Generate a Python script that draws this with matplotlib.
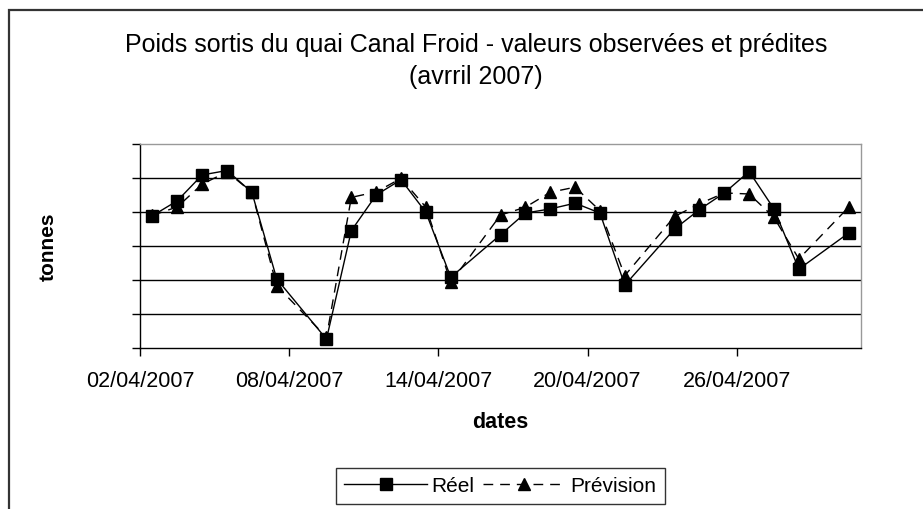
import matplotlib
matplotlib.use("Agg")
import matplotlib.pyplot as plt
from matplotlib.patches import Rectangle
import pandas as pd

plt.rcParams['font.family'] = ['Liberation Sans', 'DejaVu Sans']

dates = ["2007-04-02", "2007-04-03", "2007-04-04", "2007-04-05", "2007-04-06", "2007-04-07",
         "2007-04-09", "2007-04-10", "2007-04-11", "2007-04-12", "2007-04-13", "2007-04-14",
         "2007-04-16", "2007-04-17", "2007-04-18", "2007-04-19", "2007-04-20", "2007-04-21",
         "2007-04-23", "2007-04-24", "2007-04-25", "2007-04-26", "2007-04-27", "2007-04-28",
         "2007-04-30"]
reel = [77.8, 86.6, 101.8, 104.4, 91.6, 40.6, 5.2, 69.0, 90.0, 99.0, 79.8, 41.6,
        66.6, 79.4, 81.8, 85.2, 79.4, 37.0, 70.0, 81.4, 91.2, 103.8, 81.8, 46.4, 67.6]
prevision = [78.0, 83.0, 96.4, 103.6, 91.6, 36.6, 6.4, 88.6, 91.8, 99.8, 82.8, 38.6,
             78.2, 82.8, 91.6, 94.6, 80.8, 42.6, 77.4, 84.8, 91.2, 90.6, 76.8, 52.4, 82.8]
tick_labels = ["02/04/2007", "08/04/2007", "14/04/2007", "20/04/2007", "26/04/2007"]
y_levels = [0, 20, 40, 60, 80, 100, 120]

x = pd.to_datetime(dates)
half = pd.Timedelta(hours=12)

fig = plt.figure(figsize=(9.23, 5.10), dpi=100)
ax = fig.add_axes([140/923, 1-349/510, (861-140)/923, (349-145)/510])

ax.plot(x, reel, color='black', lw=1.0, marker='s', ms=8, label='Réel', zorder=4)
ax.plot(x, prevision, color='black', lw=1.0, ls=(0, (7, 5)), marker='^', ms=8,
        label='Prévision', zorder=3)

ax.set_xlim(x[0] - half, x[-1] + half)
ax.set_ylim(y_levels[0], y_levels[-1])

for lv in y_levels[1:-1]:
    ax.axhline(lv, color='black', lw=1.0, zorder=1)

tick_pos = [pd.to_datetime(t, format="%d/%m/%Y") - half for t in tick_labels]
ax.set_xticks(tick_pos)
ax.set_xticklabels(tick_labels, fontsize=15.5)
ax.set_yticks(y_levels)
ax.set_yticklabels([])
ax.tick_params(axis='both', direction='out', length=6, width=1, color='black', pad=10)

for s in ['top', 'right']:
    ax.spines[s].set_color('#999999')
    ax.spines[s].set_linewidth(1.0)
for s in ['left', 'bottom']:
    ax.spines[s].set_color('black')
    ax.spines[s].set_linewidth(1.0)

ax.set_xlabel('dates', fontsize=15.5, fontweight='bold', labelpad=14)
ax.set_ylabel('tonnes', fontsize=15, fontweight='bold')
ax.yaxis.set_label_coords((58 - 140) / 721, 0.5)

fig.text(476/923, 1-45/510, 'Poids sortis du quai Canal Froid - valeurs observées et prédites',
         ha='center', va='center', fontsize=18)
fig.text(476/923, 1-77/510, '(avrril 2007)', ha='center', va='center', fontsize=18)

leg = fig.legend(loc='center', bbox_to_anchor=(500/923, 1-487/510), ncol=2, fontsize=15,
                 frameon=True, fancybox=False, edgecolor='black', handlelength=4,
                 handletextpad=0.2, columnspacing=0.4, borderpad=0.4)
leg.get_frame().set_linewidth(1.0)

fig.patches.append(Rectangle((9/923, -0.1), 1.2, 1.1 - 11/510, transform=fig.transFigure,
                             fill=False, edgecolor='#333333', lw=1.6))

fig.savefig('out.png', dpi=100)
